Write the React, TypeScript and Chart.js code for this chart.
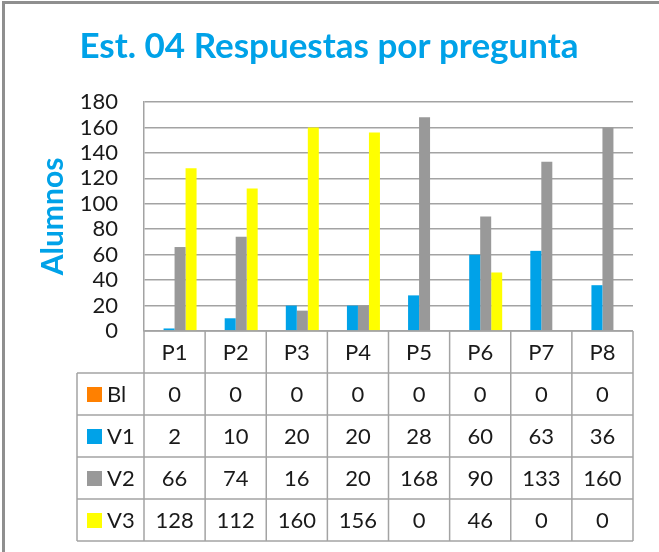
import React, { useEffect, useRef } from "react";
import { Chart, registerables } from "chart.js";
Chart.register(...registerables);

const categories = ["P1", "P2", "P3", "P4", "P5", "P6", "P7", "P8"];
const seriesLabels = ["Bl", "V1", "V2", "V3"];
const blValues = [0, 0, 0, 0, 0, 0, 0, 0];
const v1Values = [2, 10, 20, 20, 28, 60, 63, 36];
const v2Values = [66, 74, 16, 20, 168, 90, 133, 160];
const v3Values = [128, 112, 160, 156, 0, 46, 0, 0];
const seriesColors = ["#FF8000", "#00A2E8", "#999999", "#FFFF00"];
const yMin = 0;
const yMax = 180;
const yStep = 20;
const titleText = "Est. 04 Respuestas por pregunta";
const yTitle = "Alumnos";

const FONT = "Lato, 'Open Sans', sans-serif";
const TEXT = "#1a1a1a";
const LINE = "#A3A3A3";
const BLUE = "#00A2E8";

const tablePlugin = {
  id: "dataTable",
  afterDraw(chart: any) {
    const ctx = chart.ctx as CanvasRenderingContext2D;
    const xs = chart.scales.x;
    const area = chart.chartArea;
    const n = categories.length;
    const colW = (area.right - area.left) / n;
    const rowH = 42;
    const headerTop = area.bottom;
    const tableLeft = 77;
    const rows = [blValues, v1Values, v2Values, v3Values];
    const bottom = headerTop + (rows.length + 1) * rowH;
    ctx.save();
    // title
    ctx.font = `bold 35px ${FONT}`;
    ctx.fillStyle = BLUE;
    ctx.textAlign = "center";
    ctx.textBaseline = "middle";
    ctx.fillText(titleText, 329, 47);
    // table grid
    ctx.strokeStyle = LINE;
    ctx.lineWidth = 1.5;
    for (let r = 0; r <= rows.length + 1; r++) {
      const y = headerTop + r * rowH;
      ctx.beginPath();
      ctx.moveTo(r === 0 ? area.left : tableLeft, y);
      ctx.lineTo(area.right, y);
      ctx.stroke();
    }
    ctx.beginPath();
    ctx.moveTo(tableLeft, headerTop + rowH);
    ctx.lineTo(tableLeft, bottom);
    ctx.stroke();
    for (let c = 0; c <= n; c++) {
      const xx = area.left + c * colW;
      ctx.beginPath();
      ctx.moveTo(xx, headerTop);
      ctx.lineTo(xx, bottom);
      ctx.stroke();
    }
    ctx.font = `22px ${FONT}`;
    ctx.textBaseline = "middle";
    ctx.textAlign = "center";
    ctx.fillStyle = TEXT;
    categories.forEach((cat, i) => {
      ctx.fillText(cat, xs.getPixelForValue(i), headerTop + rowH / 2 + 1);
    });
    rows.forEach((vals, r) => {
      const cy = headerTop + (r + 1.5) * rowH;
      ctx.textAlign = "center";
      ctx.fillStyle = TEXT;
      vals.forEach((v, i) => {
        ctx.fillText(String(v), xs.getPixelForValue(i), cy + 1);
      });
      ctx.fillStyle = seriesColors[r];
      ctx.fillRect(87, cy - 7, 15, 15);
      ctx.fillStyle = TEXT;
      ctx.textAlign = "left";
      ctx.fillText(seriesLabels[r], 107, cy + 1);
    });
    ctx.fillStyle = "#8F8F8F";
    ctx.fillRect(2, 1, 657, 3);
    ctx.fillRect(2, 1, 3, 551);
    ctx.restore();
  },
};

export default function App() {
  const ref = useRef<HTMLCanvasElement | null>(null);
  useEffect(() => {
    document.body.style.margin = "0";
    const canvas = ref.current;
    if (!canvas) return;
    const chart = new Chart(canvas, {
      type: "bar",
      data: {
        labels: categories,
        datasets: [blValues, v1Values, v2Values, v3Values].map((d, i) => ({
          label: seriesLabels[i],
          data: d,
          backgroundColor: seriesColors[i],
          borderWidth: 0,
          categoryPercentage: 0.72,
          barPercentage: 1,
        })),
      },
      options: {
        animation: false,
        responsive: false,
        devicePixelRatio: 1,
        layout: { padding: { top: 102, left: 0, right: 26, bottom: 221 } },
        plugins: {
          legend: { display: false },
          tooltip: { enabled: false },
          title: { display: false },
        },
        scales: {
          x: { display: false },
          y: {
            min: yMin,
            max: yMax,
            ticks: {
              stepSize: yStep,
              autoSkip: false,
              padding: 26,
              color: TEXT,
              font: { family: FONT, size: 22 },
            },
            grid: { color: LINE, lineWidth: 1.5, drawTicks: false },
            border: { display: true, color: LINE, width: 1.5 },
            title: {
              display: true,
              text: yTitle,
              color: BLUE,
              font: { family: FONT, size: 30, weight: "bold" },
              padding: { top: 35, bottom: 0 },
            },
            afterFit: (scale: any) => {
              scale.width = 144;
            },
          },
        },
      },
      plugins: [tablePlugin],
    });
    return () => chart.destroy();
  }, []);
  return (
    <div style={{ position: "absolute", left: 0, top: 0, width: 659, height: 552, background: "#fff" }}>
      <canvas ref={ref} width={659} height={552} style={{ display: "block" }} />
    </div>
  );
}
